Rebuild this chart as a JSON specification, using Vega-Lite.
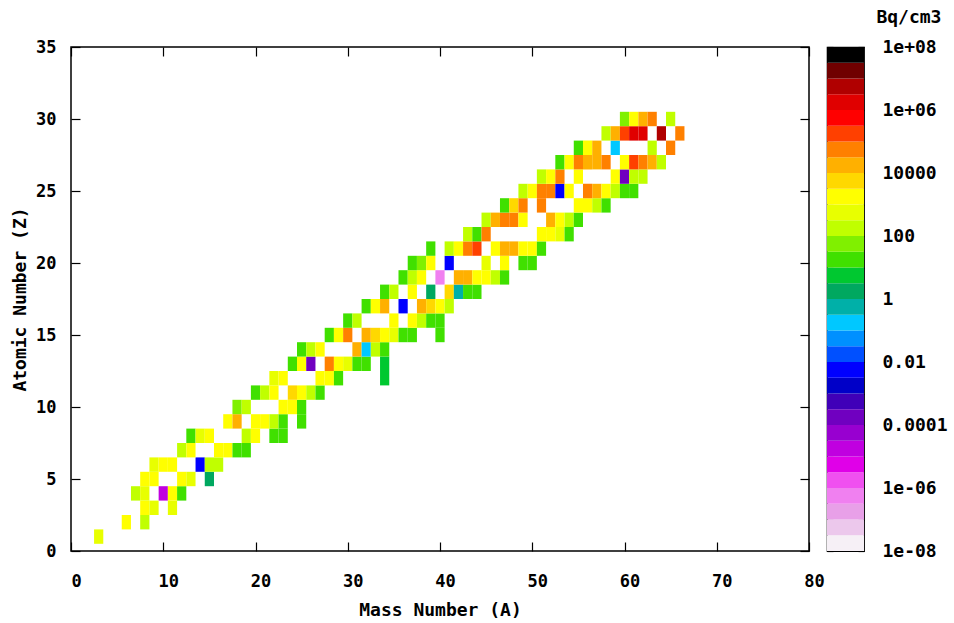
{
  "$schema": "https://vega.github.io/schema/vega-lite/v6.json",
  "background": "white",
  "padding": {"left": 10, "top": 8, "right": 5, "bottom": 5},
  "bounds": "flush",
  "spacing": 18,
  "config": {
    "font": "DejaVu Sans Mono",
    "axis": {"labelFont": "DejaVu Sans Mono", "labelFontWeight": "bold", "labelFontSize": 17, "labelColor": "#000", "titleFont": "DejaVu Sans Mono", "titleFontWeight": "bold", "titleFontSize": 18, "titleColor": "#000", "tickColor": "#000", "tickWidth": 1.2, "domain": false, "grid": false, "labelFlush": false}
  },
  "resolve": {"scale": {"color": "independent"}},
  "datasets": {
    "cells": [
      {"A":3,"Z":1,"act":500},
      {"A":6,"Z":2,"act":1200},{"A":8,"Z":2,"act":160},
      {"A":8,"Z":3,"act":1600},{"A":9,"Z":3,"act":500},{"A":11,"Z":3,"act":500},
      {"A":7,"Z":4,"act":160},{"A":8,"Z":4,"act":500},{"A":10,"Z":4,"act":1.6e-5},{"A":11,"Z":4,"act":1600},{"A":12,"Z":4,"act":16},
      {"A":8,"Z":5,"act":1600},{"A":9,"Z":5,"act":1600},{"A":12,"Z":5,"act":1600},{"A":13,"Z":5,"act":500},{"A":15,"Z":5,"act":1.6},
      {"A":9,"Z":6,"act":500},{"A":10,"Z":6,"act":1600},{"A":11,"Z":6,"act":1600},{"A":14,"Z":6,"act":0.005},{"A":15,"Z":6,"act":160},{"A":16,"Z":6,"act":160},
      {"A":12,"Z":7,"act":160},{"A":13,"Z":7,"act":1600},{"A":16,"Z":7,"act":1600},{"A":17,"Z":7,"act":1600},{"A":18,"Z":7,"act":16},{"A":19,"Z":7,"act":16},
      {"A":13,"Z":8,"act":16},{"A":14,"Z":8,"act":500},{"A":15,"Z":8,"act":1600},{"A":19,"Z":8,"act":160},{"A":20,"Z":8,"act":1600},{"A":22,"Z":8,"act":16},{"A":23,"Z":8,"act":16},
      {"A":17,"Z":9,"act":1600},{"A":18,"Z":9,"act":16000},{"A":20,"Z":9,"act":1600},{"A":21,"Z":9,"act":1600},{"A":22,"Z":9,"act":160},{"A":23,"Z":9,"act":16},{"A":25,"Z":9,"act":16},
      {"A":18,"Z":10,"act":50},{"A":19,"Z":10,"act":160},{"A":23,"Z":10,"act":1600},{"A":24,"Z":10,"act":1600},{"A":25,"Z":10,"act":16},
      {"A":20,"Z":11,"act":16},{"A":21,"Z":11,"act":160},{"A":22,"Z":11,"act":1600},{"A":24,"Z":11,"act":5000},{"A":25,"Z":11,"act":1600},{"A":26,"Z":11,"act":160},{"A":27,"Z":11,"act":16},
      {"A":22,"Z":12,"act":500},{"A":23,"Z":12,"act":1600},{"A":27,"Z":12,"act":1600},{"A":28,"Z":12,"act":1600},{"A":29,"Z":12,"act":16},{"A":34,"Z":12,"act":5},
      {"A":24,"Z":13,"act":16},{"A":25,"Z":13,"act":1600},{"A":26,"Z":13,"act":1.6e-4},{"A":28,"Z":13,"act":50000},{"A":29,"Z":13,"act":1600},{"A":30,"Z":13,"act":500},{"A":31,"Z":13,"act":16},{"A":32,"Z":13,"act":16},{"A":34,"Z":13,"act":5},
      {"A":25,"Z":14,"act":16},{"A":26,"Z":14,"act":160},{"A":27,"Z":14,"act":1600},{"A":31,"Z":14,"act":16000},{"A":32,"Z":14,"act":0.16},{"A":33,"Z":14,"act":160},{"A":34,"Z":14,"act":16},
      {"A":28,"Z":15,"act":16},{"A":29,"Z":15,"act":1600},{"A":30,"Z":15,"act":50000},{"A":32,"Z":15,"act":16000},{"A":33,"Z":15,"act":5000},{"A":34,"Z":15,"act":1600},{"A":35,"Z":15,"act":500},{"A":36,"Z":15,"act":16},{"A":37,"Z":15,"act":16},{"A":40,"Z":15,"act":16},
      {"A":30,"Z":16,"act":16},{"A":31,"Z":16,"act":160},{"A":35,"Z":16,"act":1600},{"A":37,"Z":16,"act":1600},{"A":38,"Z":16,"act":160},{"A":39,"Z":16,"act":16},{"A":40,"Z":16,"act":16},
      {"A":32,"Z":17,"act":16},{"A":33,"Z":17,"act":1600},{"A":34,"Z":17,"act":16000},{"A":36,"Z":17,"act":0.005},{"A":38,"Z":17,"act":16000},{"A":39,"Z":17,"act":5000},{"A":40,"Z":17,"act":1600},{"A":41,"Z":17,"act":160},
      {"A":34,"Z":18,"act":16},{"A":35,"Z":18,"act":160},{"A":37,"Z":18,"act":1600},{"A":39,"Z":18,"act":1.6},{"A":41,"Z":18,"act":5000},{"A":42,"Z":18,"act":0.6},{"A":43,"Z":18,"act":16},{"A":44,"Z":18,"act":16},
      {"A":36,"Z":19,"act":16},{"A":37,"Z":19,"act":160},{"A":38,"Z":19,"act":1600},{"A":40,"Z":19,"act":6e-7},{"A":42,"Z":19,"act":16000},{"A":43,"Z":19,"act":16000},{"A":44,"Z":19,"act":1600},{"A":45,"Z":19,"act":1600},{"A":46,"Z":19,"act":160},{"A":47,"Z":19,"act":16},
      {"A":37,"Z":20,"act":16},{"A":38,"Z":20,"act":50},{"A":39,"Z":20,"act":1600},{"A":41,"Z":20,"act":0.005},{"A":45,"Z":20,"act":500},{"A":47,"Z":20,"act":1600},{"A":49,"Z":20,"act":16},{"A":50,"Z":20,"act":16},
      {"A":39,"Z":21,"act":16},{"A":41,"Z":21,"act":160},{"A":42,"Z":21,"act":1600},{"A":43,"Z":21,"act":50000},{"A":44,"Z":21,"act":160000},{"A":46,"Z":21,"act":1600},{"A":47,"Z":21,"act":16000},{"A":48,"Z":21,"act":16000},{"A":49,"Z":21,"act":1600},{"A":50,"Z":21,"act":1600},{"A":51,"Z":21,"act":16},
      {"A":43,"Z":22,"act":160},{"A":44,"Z":22,"act":16},{"A":45,"Z":22,"act":50000},{"A":51,"Z":22,"act":1600},{"A":52,"Z":22,"act":1600},{"A":53,"Z":22,"act":500},{"A":54,"Z":22,"act":16},
      {"A":45,"Z":23,"act":160},{"A":46,"Z":23,"act":16000},{"A":47,"Z":23,"act":50000},{"A":48,"Z":23,"act":50000},{"A":49,"Z":23,"act":1600},{"A":52,"Z":23,"act":16000},{"A":53,"Z":23,"act":1600},{"A":54,"Z":23,"act":160},{"A":55,"Z":23,"act":16},
      {"A":47,"Z":24,"act":16},{"A":48,"Z":24,"act":5000},{"A":49,"Z":24,"act":50000},{"A":51,"Z":24,"act":50000},{"A":55,"Z":24,"act":1600},{"A":56,"Z":24,"act":1600},{"A":57,"Z":24,"act":160},{"A":58,"Z":24,"act":16},
      {"A":49,"Z":25,"act":160},{"A":50,"Z":25,"act":1600},{"A":51,"Z":25,"act":50000},{"A":52,"Z":25,"act":50000},{"A":53,"Z":25,"act":0.005},{"A":54,"Z":25,"act":1600},{"A":56,"Z":25,"act":50000},{"A":57,"Z":25,"act":16000},{"A":58,"Z":25,"act":1600},{"A":59,"Z":25,"act":160},{"A":60,"Z":25,"act":16},{"A":61,"Z":25,"act":16},
      {"A":51,"Z":26,"act":160},{"A":52,"Z":26,"act":1600},{"A":53,"Z":26,"act":50000},{"A":55,"Z":26,"act":1600},{"A":59,"Z":26,"act":1600},{"A":60,"Z":26,"act":1.6e-4},{"A":61,"Z":26,"act":160},{"A":62,"Z":26,"act":160},
      {"A":53,"Z":27,"act":16},{"A":54,"Z":27,"act":1600},{"A":55,"Z":27,"act":50000},{"A":56,"Z":27,"act":16000},{"A":57,"Z":27,"act":16000},{"A":58,"Z":27,"act":50000},{"A":60,"Z":27,"act":1600},{"A":61,"Z":27,"act":160000},{"A":62,"Z":27,"act":50000},{"A":63,"Z":27,"act":16000},{"A":64,"Z":27,"act":160},
      {"A":55,"Z":28,"act":16},{"A":56,"Z":28,"act":1600},{"A":57,"Z":28,"act":16000},{"A":59,"Z":28,"act":0.16},{"A":63,"Z":28,"act":160},{"A":65,"Z":28,"act":50000},
      {"A":58,"Z":29,"act":160},{"A":59,"Z":29,"act":16000},{"A":60,"Z":29,"act":160000},{"A":61,"Z":29,"act":1600000},{"A":62,"Z":29,"act":1600000},{"A":64,"Z":29,"act":5000000},{"A":66,"Z":29,"act":50000},
      {"A":60,"Z":30,"act":50},{"A":61,"Z":30,"act":1600},{"A":62,"Z":30,"act":16000},{"A":63,"Z":30,"act":50000},{"A":65,"Z":30,"act":160}
    ],
    "bands": [
      {"lo":1e-8,"hi":3.16227766e-8},{"lo":3.16227766e-8,"hi":1e-7},{"lo":1e-7,"hi":3.16227766e-7},{"lo":3.16227766e-7,"hi":1e-6},
      {"lo":1e-6,"hi":3.16227766e-6},{"lo":3.16227766e-6,"hi":1e-5},{"lo":1e-5,"hi":3.16227766e-5},{"lo":3.16227766e-5,"hi":1e-4},
      {"lo":1e-4,"hi":3.16227766e-4},{"lo":3.16227766e-4,"hi":1e-3},{"lo":1e-3,"hi":3.16227766e-3},{"lo":3.16227766e-3,"hi":0.01},
      {"lo":0.01,"hi":0.0316227766},{"lo":0.0316227766,"hi":0.1},{"lo":0.1,"hi":0.316227766},{"lo":0.316227766,"hi":1},
      {"lo":1,"hi":3.16227766},{"lo":3.16227766,"hi":10},{"lo":10,"hi":31.6227766},{"lo":31.6227766,"hi":100},
      {"lo":100,"hi":316.227766},{"lo":316.227766,"hi":1000},{"lo":1000,"hi":3162.27766},{"lo":3162.27766,"hi":10000},
      {"lo":10000,"hi":31622.7766},{"lo":31622.7766,"hi":100000},{"lo":100000,"hi":316227.766},{"lo":316227.766,"hi":1000000},
      {"lo":1000000,"hi":3162277.66},{"lo":3162277.66,"hi":10000000},{"lo":10000000,"hi":31622776.6},{"lo":31622776.6,"hi":100000000}
    ]
  },
  "hconcat": [
    {
      "width": 738,
      "height": 504,
      "view": {"stroke": "#000", "strokeWidth": 1.5},
      "data": {"name": "cells"},
      "transform": [
        {"calculate": "datum.A - 0.5", "as": "a0"},
        {"calculate": "datum.A + 0.5", "as": "a1"},
        {"calculate": "datum.Z - 0.5", "as": "z0"},
        {"calculate": "datum.Z + 0.5", "as": "z1"}
      ],
      "layer": [
        {
          "mark": {"type": "rect"},
          "encoding": {
            "x": {"field": "a0", "type": "quantitative", "scale": {"domain": [0, 80], "nice": false, "zero": false},
                  "axis": {"orient": "bottom", "values": [0,10,20,30,40,50,60,70,80], "title": "Mass Number (A)", "tickSize": -9, "labelPadding": 31, "labelOffset": 5, "titlePadding": 12}},
            "x2": {"field": "a1"},
            "y": {"field": "z0", "type": "quantitative", "scale": {"domain": [0, 35], "nice": false, "zero": false},
                  "axis": {"orient": "left", "values": [0,5,10,15,20,25,30,35], "title": "Atomic Number (Z)", "tickSize": -9, "labelPadding": 24, "titlePadding": 6}},
            "y2": {"field": "z1"},
            "color": {"field": "act", "type": "quantitative",
                      "scale": {"type": "threshold",
                                "domain": [3.16227766e-8,1e-7,3.16227766e-7,1e-6,3.16227766e-6,1e-5,3.16227766e-5,1e-4,3.16227766e-4,1e-3,3.16227766e-3,0.01,0.0316227766,0.1,0.316227766,1,3.16227766,10,31.6227766,100,316.227766,1000,3162.27766,10000,31622.7766,100000,316227.766,1000000,3162277.66,10000000,31622776.6],
                                "range": ["#f6f0f6","#ecc8ec","#e8a0e8","#f080f0","#f050f0","#e000e8","#c000e0","#9800d0","#7000c0","#4000b8","#0000c8","#0000ff","#0050ff","#0090ff","#00c8ff","#00b0a8","#00a860","#00c830","#40e000","#80f000","#c0ff00","#e8ff00","#ffff00","#ffd800","#ffb000","#ff8000","#ff4000","#ff0000","#e00000","#b00000","#700000","#000000"]},
                      "legend": null}
          }
        },
        {
          "mark": {"type": "rect", "opacity": 0},
          "encoding": {
            "x": {"field": "a0", "type": "quantitative", "axis": {"orient": "top", "values": [0,10,20,30,40,50,60,70,80], "labels": false, "title": null, "tickSize": -9}},
            "x2": {"field": "a1"},
            "y": {"field": "z0", "type": "quantitative", "axis": {"orient": "right", "values": [0,5,10,15,20,25,30,35], "labels": false, "title": null, "tickSize": -9}},
            "y2": {"field": "z1"}
          }
        }
      ],
      "resolve": {"axis": {"x": "independent", "y": "independent"}}
    },
    {
      "width": 37,
      "height": 504,
      "view": {"stroke": "#000", "strokeWidth": 1.2},
      "title": {"text": "Bq/cm3", "anchor": "start", "dx": 50, "offset": -3, "baseline": "alphabetic", "font": "DejaVu Sans Mono", "fontSize": 18, "fontWeight": "bold", "color": "#000"},
      "data": {"name": "bands"},
      "layer": [
        {
          "mark": {"type": "rect"},
          "encoding": {
            "x": {"datum": 0, "type": "quantitative", "scale": {"domain": [0, 1], "nice": false, "zero": false}, "axis": null},
            "x2": {"datum": 1},
            "y": {"field": "lo", "type": "quantitative", "scale": {"type": "log", "domain": [1e-8, 1e8], "nice": false},
                  "axis": {"orient": "right", "values": [1e-8,1e-7,1e-6,1e-5,1e-4,1e-3,0.01,0.1,1,10,100,1000,10000,100000,1000000,10000000,100000000],
                           "labelExpr": "round(log(datum.value)/LN10) % 2 !== 0 ? '' : (abs(round(log(datum.value)/LN10)) >= 6 ? '1e' + (datum.value > 1 ? '+' : '-') + pad(toString(abs(round(log(datum.value)/LN10))), 2, '0', 'left') : format(datum.value, '~g'))",
                           "labelAlign": "left", "labelFontSize": 18, "tickSize": -6, "labelPadding": 24, "title": null}},
            "y2": {"field": "hi"},
            "color": {"field": "lo", "type": "quantitative",
                      "scale": {"type": "threshold",
                                "domain": [3.16227766e-8,1e-7,3.16227766e-7,1e-6,3.16227766e-6,1e-5,3.16227766e-5,1e-4,3.16227766e-4,1e-3,3.16227766e-3,0.01,0.0316227766,0.1,0.316227766,1,3.16227766,10,31.6227766,100,316.227766,1000,3162.27766,10000,31622.7766,100000,316227.766,1000000,3162277.66,10000000,31622776.6],
                                "range": ["#f6f0f6","#ecc8ec","#e8a0e8","#f080f0","#f050f0","#e000e8","#c000e0","#9800d0","#7000c0","#4000b8","#0000c8","#0000ff","#0050ff","#0090ff","#00c8ff","#00b0a8","#00a860","#00c830","#40e000","#80f000","#c0ff00","#e8ff00","#ffff00","#ffd800","#ffb000","#ff8000","#ff4000","#ff0000","#e00000","#b00000","#700000","#000000"]},
                      "legend": null}
          }
        },
        {
          "mark": {"type": "rect", "opacity": 0},
          "encoding": {
            "x": {"datum": 0, "type": "quantitative", "axis": null},
            "x2": {"datum": 1},
            "y": {"field": "lo", "type": "quantitative",
                  "axis": {"orient": "left", "values": [1e-8,1e-7,1e-6,1e-5,1e-4,1e-3,0.01,0.1,1,10,100,1000,10000,100000,1000000,10000000,100000000], "labels": false, "title": null, "tickSize": -6}},
            "y2": {"field": "hi"}
          }
        }
      ],
      "resolve": {"axis": {"y": "independent"}}
    }
  ]
}
